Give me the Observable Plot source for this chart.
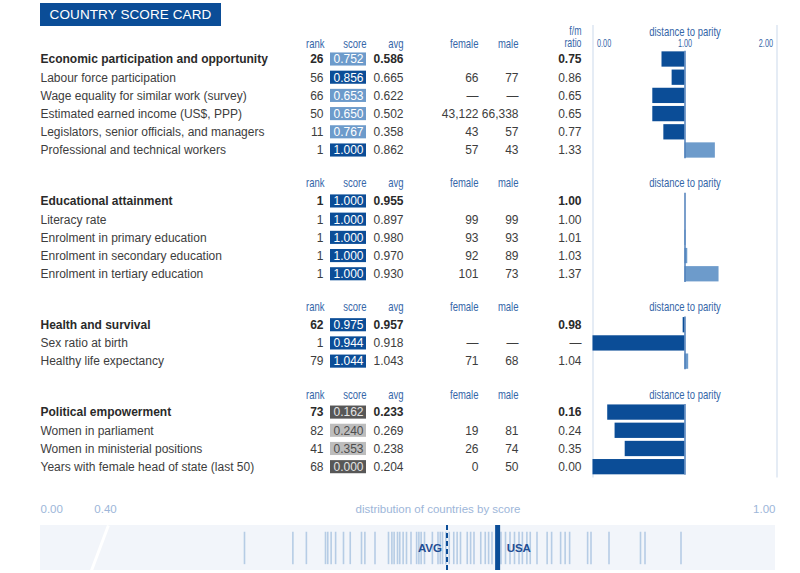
<!DOCTYPE html>
<html>
<head>
<meta charset="utf-8">
<script src="https://cdn.jsdelivr.net/npm/d3@7"></script>
<script src="https://cdn.jsdelivr.net/npm/@observablehq/plot@0.6"></script>
<style>
  html, body { margin: 0; padding: 0; background: #fff; }
  #wrap { position: relative; width: 800px; height: 573px; overflow: hidden; font-family: "Liberation Sans", Arial, sans-serif; }
  #title { position: absolute; left: 40px; top: 3px; width: 181px; height: 23px; background: #0b4d97; color: #fff;
           font-size: 13.5px; line-height: 23px; text-align: center; letter-spacing: 0.1px; z-index: 2; }
  #top { position: absolute; left: 0; top: 0; display: flex; }
  #bottom { position: absolute; left: 0; top: 495px; }
  svg { display: block; }
</style>
</head>
<body>
<div id="wrap">
  <div id="title">COUNTRY SCORE CARD</div>
  <div id="top"></div>
  <div id="bottom"></div>
</div>
<script>
// ---------------- data ----------------
const indicators = [
  "Economic participation and opportunity",
  "Labour force participation",
  "Wage equality for similar work (survey)",
  "Estimated earned income (US$, PPP)",
  "Legislators, senior officials, and managers",
  "Professional and technical workers",
  "Educational attainment",
  "Literacy rate",
  "Enrolment in primary education",
  "Enrolment in secondary education",
  "Enrolment in tertiary education",
  "Health and survival",
  "Sex ratio at birth",
  "Healthy life expectancy",
  "Political empowerment",
  "Women in parliament",
  "Women in ministerial positions",
  "Years with female head of state (last 50)"
];
const sectionOf = [0,0,0,0,0,0, 1,1,1,1,1, 2,2,2, 3,3,3,3];
const ranks    = [26,56,66,50,11,1, 1,1,1,1,1, 62,1,79, 73,82,41,68];
const scores   = [0.752,0.856,0.653,0.650,0.767,1.000, 1.000,1.000,1.000,1.000,1.000, 0.975,0.944,1.044, 0.162,0.240,0.353,0.000];
const averages = [0.586,0.665,0.622,0.502,0.358,0.862, 0.955,0.897,0.980,0.970,0.930, 0.957,0.918,1.043, 0.233,0.269,0.238,0.204];
const female   = [null,66,null,43122,43,57, null,99,93,92,101, null,null,71, null,19,26,0];
const male     = [null,77,null,66338,57,43, null,99,93,89,73, null,null,68, null,81,74,50];
const ratios   = [0.75,0.86,0.65,0.65,0.77,1.33, 1.00,1.00,1.01,1.03,1.37, 0.98,null,1.04, 0.16,0.24,0.35,0.00];
const parityBars = [0.75,0.86,0.65,0.65,0.77,1.33, 1.00,1.00,1.01,1.03,1.37, 0.98,0.00,1.04, 0.16,0.24,0.35,0.00];
const columnHeads = ["rank","score","avg","female","male"];
const parityTicks = [0, 1, 2];
const stripTicks = [0, 0.4, 1];
const countryScores = [0.528,0.571,0.583,0.600,0.602,0.605,0.609,0.616,0.622,0.632,0.635,0.644,
  0.656,0.659,0.661,0.664,0.666,0.669,0.672,0.676,0.681,0.683,0.685,0.688,0.695,0.700,0.702,0.704,
  0.707,0.710,0.714,0.717,0.720,0.726,0.729,0.732,0.738,0.742,0.745,0.748,0.756,0.760,0.764,0.768,
  0.772,0.775,0.779,0.782,0.788,0.797,0.801,0.809,0.813,0.817,0.833,0.836,0.852,0.880,0.884,0.916];
const usaScore = 0.753;
const avgScore = 0.708;

// ---------------- layout ----------------
const PITCH = 18.2, ROW0 = 59, TOPH = 495;
const COL = {label: 40, rank: 323, scoreL: 330, scoreR: 366, avg: 403, female: 478, male: 518, ratio: 581};
const headX = {rank: 324, score: 366, avg: 403, female: 478, male: 518};
const yScale = {domain: [-ROW0 / PITCH, (TOPH - ROW0) / PITCH], range: [0, TOPH], axis: null};

const rows = [];
const sections = [];
let slot = 0;
indicators.forEach((name, i) => {
  const head = i === 0 || sectionOf[i] !== sectionOf[i - 1];
  if (head) {
    const hs = i === 0 ? -0.88 : slot + 1.8;
    slot = i === 0 ? 0 : hs + 1;
    sections.push({sec: sectionOf[i], slot: hs, first: slot, last: slot});
  } else slot += 1;
  sections[sections.length - 1].last = slot;
  rows.push({name, head, slot, rank: ranks[i], score: scores[i], avg: averages[i],
    female: female[i], male: male[i], ratio: ratios[i], bar: parityBars[i]});
});
const headerCells = sections.flatMap(s => columnHeads.map(c => ({c, slot: s.slot})));

const fmtInt = d3.format(",");
const numText = (d, v) => v == null ? (d.head ? "" : "\u2014") : fmtInt(v);

const boxFill = Plot.scale({color: {type: "threshold", domain: [0.2, 0.6, 0.8], range: ["#575757", "#bdbdbd", "#6d9bcb", "#0b4d97"]}});
const boxText = Plot.scale({color: {type: "threshold", domain: [0.2, 0.6, 0.8], range: ["#e4e4e4", "#4d4d4d", "#ffffff", "#ffffff"]}});

const BLUE = "#0b4d97", LIGHT = "#6d9bcb", HEAD = "#3566a8";
const TXT = "#3d3d3d", BOLD = "#2a2a2a";
const baseStyle = {fontFamily: "'Liberation Sans', Arial, sans-serif", fontSize: "12px", background: "transparent", overflow: "visible"};

// text column: bold for headline rows, regular for the indicators
function column(x, text, anchor, boldHead = true) {
  const heads = rows.filter(d => d.head), subs = rows.filter(d => !d.head);
  return [
    Plot.text(heads, {x, y: "slot", text, textAnchor: anchor, fill: BOLD, fontWeight: boldHead ? "bold" : "normal", fontSize: 12}),
    Plot.text(subs, {x, y: "slot", text, textAnchor: anchor, fill: TXT, fontSize: 12})
  ];
}

// condensed look for the blue header labels (no condensed face installed)
function condense(svg, color, k = 0.73) {
  svg.querySelectorAll(`g[fill="${color}"] text`).forEach(t => {
    const tr = t.getAttribute("transform");
    if (tr) t.setAttribute("transform", tr + ` scale(${k},1)`);
    else {
      const x = +t.getAttribute("x") || 0;
      t.setAttribute("transform", `translate(${x},0) scale(${k},1) translate(${-x},0)`);
    }
  });
}

// ---------------- table ----------------
const table = Plot.plot({
  width: 592, height: TOPH, margin: 0,
  style: baseStyle,
  x: {type: "identity", axis: null},
  y: yScale,
  marks: [
    ...column(() => COL.label, "name", "start"),
    ...column(() => COL.rank, d => String(d.rank), "end"),
    Plot.rect(rows, {x1: () => COL.scoreL, x2: () => COL.scoreR, y1: d => d.slot - 0.36, y2: d => d.slot + 0.36,
      fill: d => boxFill.apply(d.score)}),
    Plot.text(rows, {x: () => (COL.scoreL + COL.scoreR) / 2, y: "slot", text: d => d.score.toFixed(3),
      fill: d => boxText.apply(d.score), fontSize: 12}),
    ...column(() => COL.avg, d => d.avg.toFixed(3), "end"),
    ...column(() => COL.female, d => numText(d, d.female), "end", false),
    ...column(() => COL.male, d => numText(d, d.male), "end", false),
    ...column(() => COL.ratio, d => d.ratio == null ? "\u2014" : d.ratio.toFixed(2), "end"),
    Plot.text(headerCells, {x: d => headX[d.c], y: "slot", text: "c", textAnchor: "end", fill: HEAD, fontSize: 13}),
    Plot.text(["f/m", "ratio"], {x: () => COL.ratio, y: (d, i) => sections[0].slot - 0.68 + 0.68 * i, text: d => d,
      textAnchor: "end", fill: HEAD, fontSize: 12})
  ]
});
condense(table, HEAD);

// ---------------- distance to parity ----------------
const parity = Plot.plot({
  width: 208, height: TOPH, margin: 0,
  style: baseStyle,
  x: {domain: [0, 2], range: [0.5, 184.5], axis: null},
  y: yScale,
  marks: [
    Plot.ruleX([0, 2], {y1: -1.87, y2: 23.0, stroke: "#dde6f2", strokeWidth: 1.5}),
    Plot.rect(rows, {x1: d => Math.min(d.bar, 1), x2: d => Math.max(d.bar, 1),
      y1: d => d.slot - 0.42, y2: d => d.slot + 0.42, fill: d => d.bar < 1 ? BLUE : LIGHT}),
    Plot.ruleX(sections, {x: () => 1, y1: d => d.first - 0.45, y2: d => d.last + 0.45, stroke: "#4f7fba", strokeWidth: 1.5}),
    Plot.text(sections, {x: () => 1, y: d => d.sec === 0 ? d.slot - 0.66 : d.slot, text: () => "distance to parity",
      fill: HEAD, fontSize: 13}),
    Plot.text(parityTicks.filter(d => d === 0), {x: d => d, y: () => sections[0].slot, text: d => d.toFixed(2),
      textAnchor: "start", dx: 4, fill: HEAD, fontSize: 10}),
    Plot.text(parityTicks.filter(d => d === 1), {x: d => d, y: () => sections[0].slot, text: d => d.toFixed(2),
      textAnchor: "middle", fill: HEAD, fontSize: 10}),
    Plot.text(parityTicks.filter(d => d === 2), {x: d => d, y: () => sections[0].slot, text: d => d.toFixed(2),
      textAnchor: "end", dx: -4, fill: HEAD, fontSize: 10})
  ]
});
condense(parity, HEAD);

// ---------------- distribution strip ----------------
// broken axis: the compressed 0–0.40 stub sits at the left edge
const xLow = 0.4 - (60 / 675) * 0.6;
const stripPos = v => Math.max(v, xLow);
const strip = Plot.plot({
  width: 800, height: 78, margin: 0,
  style: {...baseStyle, fontSize: "11.5px"},
  x: {domain: [xLow, 1], range: [40, 775], axis: null},
  y: {domain: [0, 1], range: [30, 75], axis: null},
  marks: [
    Plot.rect([0], {x1: () => xLow, x2: () => 1, y1: () => 0, y2: () => 1, fill: "#f2f5fa"}),
    Plot.link([0], {x1: () => 0.407, y1: () => 0, x2: () => 0.392, y2: () => 1, stroke: "#fff", strokeWidth: 3}),
    Plot.ruleX(countryScores, {y1: 0.15, y2: 0.87, stroke: "#6d9bcb", strokeOpacity: 0.45, strokeWidth: 1.6}),
    Plot.ruleX([avgScore], {y1: 0, y2: 1, stroke: BLUE, strokeWidth: 2, strokeDasharray: "5,3"}),
    Plot.ruleX([usaScore], {y1: 0, y2: 1, stroke: BLUE, strokeWidth: 5}),
    Plot.text([avgScore], {x: d => d, y: () => 0.5, text: () => "AVG", textAnchor: "end", dx: -5,
      fill: "#1f4f94", fontWeight: "bold", fontSize: 11.5}),
    Plot.text([usaScore], {x: d => d, y: () => 0.5, text: () => "USA", textAnchor: "start", dx: 9,
      fill: "#1f4f94", fontWeight: "bold", fontSize: 11.5}),
    Plot.text(stripTicks.filter(d => d === 0), {x: stripPos, y: () => -0.36, text: d => d.toFixed(2),
      textAnchor: "start", fill: "#9db6d9", fontSize: 11.5}),
    Plot.text(stripTicks.filter(d => d === 0.4), {x: stripPos, y: () => -0.36, text: d => d.toFixed(2),
      textAnchor: "middle", dx: 5, fill: "#9db6d9", fontSize: 11.5}),
    Plot.text(stripTicks.filter(d => d === 1), {x: stripPos, y: () => -0.36, text: d => d.toFixed(2),
      textAnchor: "end", fill: "#9db6d9", fontSize: 11.5}),
    Plot.text(["distribution of countries by score"], {x: () => 0.7, y: () => -0.36, text: d => d,
      fill: "#9db6d9", fontSize: 11.5})
  ]
});

document.getElementById("top").append(table, parity);
document.getElementById("bottom").append(strip);
</script>
</body>
</html>
